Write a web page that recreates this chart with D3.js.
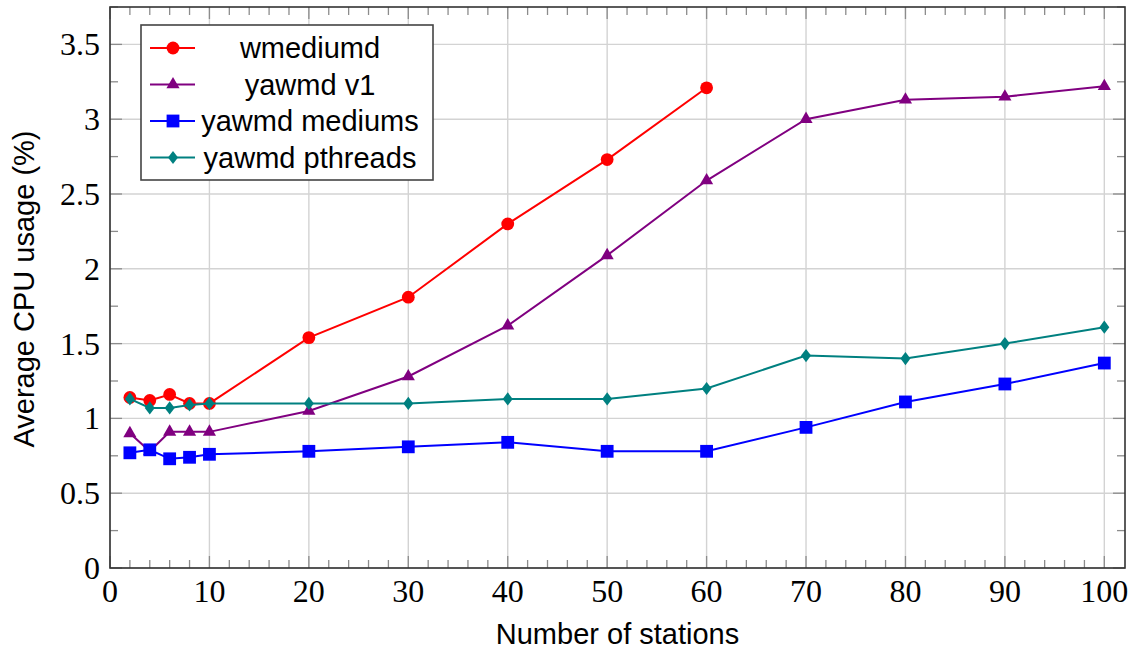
<!DOCTYPE html>
<html>
<head>
<meta charset="utf-8">
<script src="https://cdn.jsdelivr.net/npm/d3@7"></script>
<style>
  html, body { margin: 0; padding: 0; background: #fff; }
  svg { display: block; }
</style>
</head>
<body>
<svg id="chart" width="1134" height="650"></svg>
<script>
// Station counts measured
const stations = [2, 4, 6, 8, 10, 20, 30, 40, 50, 60, 70, 80, 90, 100];

// Average CPU usage (%) per emulator
const wmediumd       = [1.14, 1.12, 1.16, 1.10, 1.10, 1.54, 1.81, 2.30, 2.73, 3.21];
const yawmdV1        = [0.90, 0.78, 0.91, 0.91, 0.91, 1.05, 1.28, 1.62, 2.09, 2.59, 3.00, 3.13, 3.15, 3.22];
const yawmdMediums   = [0.77, 0.79, 0.73, 0.74, 0.76, 0.78, 0.81, 0.84, 0.78, 0.78, 0.94, 1.11, 1.23, 1.37];
const yawmdPthreads  = [1.13, 1.07, 1.07, 1.09, 1.10, 1.10, 1.10, 1.13, 1.13, 1.20, 1.42, 1.40, 1.50, 1.61];

const seriesNames = ["wmediumd", "yawmd v1", "yawmd mediums", "yawmd pthreads"];
const seriesValues = [wmediumd, yawmdV1, yawmdMediums, yawmdPthreads];
const seriesColors = ["#ff0000", "#800080", "#0000ff", "#008080"];
const seriesMarkers = ["circle", "triangle", "square", "diamond"];

const xTicks = [0, 10, 20, 30, 40, 50, 60, 70, 80, 90, 100];
const yTicks = [0, 0.5, 1, 1.5, 2, 2.5, 3, 3.5];
const xLabel = "Number of stations";
const yLabel = "Average CPU usage (%)";

const svg = d3.select("#chart");
const plot = { left: 110, right: 1125, top: 7, bottom: 568 };

const x = d3.scaleLinear().domain([0, 102.08]).range([plot.left, plot.right]);
const y = d3.scaleLinear().domain([0, 3.75]).range([plot.bottom, plot.top]);

const serif = "'Liberation Serif', 'DejaVu Serif', serif";
const sans = "'Liberation Sans', Arial, sans-serif";

// grid
const grid = svg.append("g");
grid.selectAll("line.gx").data(xTicks).join("line")
  .attr("x1", d => x(d)).attr("x2", d => x(d))
  .attr("y1", plot.top).attr("y2", plot.bottom)
  .attr("stroke", "#d3d3d3").attr("stroke-width", 1.4);
grid.selectAll("line.gy").data(yTicks).join("line")
  .attr("y1", d => y(d)).attr("y2", d => y(d))
  .attr("x1", plot.left).attr("x2", plot.right)
  .attr("stroke", "#d3d3d3").attr("stroke-width", 1.4);

// ticks on all four sides, pointing inward
const xMinor = d3.range(0, 101, 2).filter(v => v % 10 !== 0);
const yMinor = d3.range(0, 3.76, 0.25).filter(v => Math.abs(v * 2 - Math.round(v * 2)) > 1e-6);
const ticks = svg.append("g").attr("stroke", "#8c8c8c").attr("stroke-width", 1.3);
function xTickMarks(vals, len) {
  ticks.append("g").selectAll("line").data(vals).join("line")
    .attr("x1", d => x(d)).attr("x2", d => x(d))
    .attr("y1", plot.bottom).attr("y2", plot.bottom - len);
  ticks.append("g").selectAll("line").data(vals).join("line")
    .attr("x1", d => x(d)).attr("x2", d => x(d))
    .attr("y1", plot.top).attr("y2", plot.top + len);
}
function yTickMarks(vals, len) {
  ticks.append("g").selectAll("line").data(vals).join("line")
    .attr("y1", d => y(d)).attr("y2", d => y(d))
    .attr("x1", plot.left).attr("x2", plot.left + len);
  ticks.append("g").selectAll("line").data(vals).join("line")
    .attr("y1", d => y(d)).attr("y2", d => y(d))
    .attr("x1", plot.right).attr("x2", plot.right - len);
}
xTickMarks(xTicks, 12);
xTickMarks(xMinor, 8);
yTickMarks(yTicks, 12);
yTickMarks(yMinor, 8);

// frame
svg.append("rect")
  .attr("x", plot.left).attr("y", plot.top)
  .attr("width", plot.right - plot.left).attr("height", plot.bottom - plot.top)
  .attr("fill", "none").attr("stroke", "#333").attr("stroke-width", 1.6);

// tick labels
svg.append("g").selectAll("text").data(xTicks).join("text")
  .attr("x", d => x(d)).attr("y", 602)
  .attr("text-anchor", "middle")
  .attr("font-family", serif).attr("font-size", 32).attr("fill", "#000")
  .text(d => d);
svg.append("g").selectAll("text").data(yTicks).join("text")
  .attr("x", 100).attr("y", d => y(d) + 11)
  .attr("text-anchor", "end")
  .attr("font-family", serif).attr("font-size", 32).attr("fill", "#000")
  .text(d => d);

// axis titles
svg.append("text")
  .attr("x", (plot.left + plot.right) / 2).attr("y", 644)
  .attr("text-anchor", "middle")
  .attr("font-family", sans).attr("font-size", 29).attr("fill", "#000")
  .text(xLabel);
svg.append("text")
  .attr("transform", `translate(34, ${289}) rotate(-90)`)
  .attr("text-anchor", "middle")
  .attr("font-family", sans).attr("font-size", 29).attr("fill", "#000")
  .text(yLabel);

// marker shapes
function markerPath(kind) {
  switch (kind) {
    case "circle": return d3.symbol().type(d3.symbolCircle).size(Math.PI * 6.4 * 6.4)();
    case "square": return "M-6.4,-6.4H6.4V6.4H-6.4Z";
    case "triangle": {
      const r = 7.6, s = r * Math.sin(Math.PI / 3);
      return `M0,${-r}L${s},${r / 2}L${-s},${r / 2}Z`;
    }
    case "diamond": return "M0,-6.6L5,0L0,6.6L-5,0Z";
  }
}

const line = d3.line().x(d => x(d[0])).y(d => y(d[1]));

seriesValues.forEach((vals, i) => {
  const pts = vals.map((v, j) => [stations[j], v]);
  const g = svg.append("g");
  g.append("path").datum(pts)
    .attr("d", line).attr("fill", "none")
    .attr("stroke", seriesColors[i]).attr("stroke-width", 2);
  g.selectAll("path.m").data(pts).join("path")
    .attr("class", "m")
    .attr("transform", d => `translate(${x(d[0])},${y(d[1])})`)
    .attr("d", markerPath(seriesMarkers[i]))
    .attr("fill", seriesColors[i]);
});

// legend
const legend = svg.append("g");
legend.append("rect")
  .attr("x", 141).attr("y", 25).attr("width", 292).attr("height", 155)
  .attr("fill", "#fff").attr("stroke", "#444").attr("stroke-width", 1.6);
seriesNames.forEach((name, i) => {
  const cy = 48 + i * 36.5;
  legend.append("line")
    .attr("x1", 150).attr("x2", 195).attr("y1", cy).attr("y2", cy)
    .attr("stroke", seriesColors[i]).attr("stroke-width", 2);
  legend.append("path")
    .attr("transform", `translate(173,${cy})`)
    .attr("d", markerPath(seriesMarkers[i]))
    .attr("fill", seriesColors[i]);
  legend.append("text")
    .attr("x", 310).attr("y", cy + 10)
    .attr("text-anchor", "middle")
    .attr("font-family", sans).attr("font-size", 29).attr("fill", "#000")
    .text(name);
});
</script>
</body>
</html>
